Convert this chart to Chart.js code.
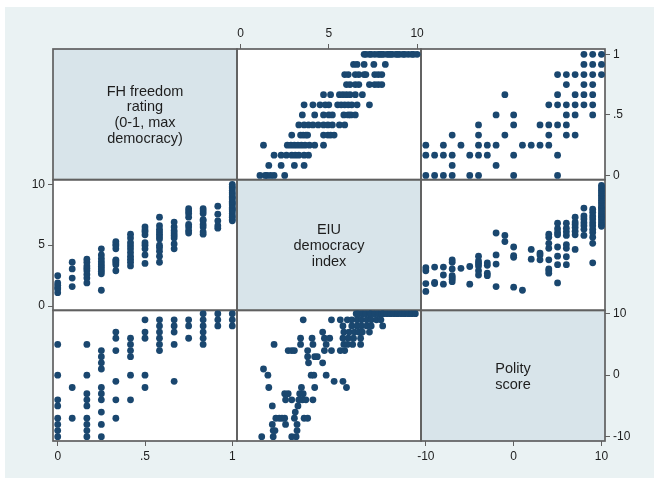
<!DOCTYPE html>
<html>
<head>
<meta charset="utf-8">
<title>Democracy measures - scatter matrix</title>
<script src="https://cdn.jsdelivr.net/npm/chart.js@4.4.1/dist/chart.umd.min.js"></script>
<style>
  html, body { margin: 0; padding: 0; background: #ffffff; }
  #wrap { position: absolute; left: 5px; top: 7px; width: 649px; height: 471px; background: #eaf2f3; }
  canvas { display: block; }
</style>
</head>
<body>
<div id="wrap"><canvas id="matrix" width="649" height="471"></canvas></div>
<script>
// names written on the diagonal
var fhName = ["FH freedom", "rating", "(0-1, max", "democracy)"];
var eiuName = ["EIU", "democracy", "index"];
var polityName = ["Polity", "score"];

// tick labels of each variable
var fhTicks = [0, 0.5, 1];
var eiuTicks = [0, 5, 10];
var polityTicks = [-10, 0, 10];

// FH rating comes in steps of 1/12
var fhLevels = [0, 0.083, 0.167, 0.25, 0.333, 0.417, 0.5, 0.583, 0.667, 0.75, 0.833, 0.917, 1];
// polity score is an integer -10..10
var polityLevels = [-10, -9, -8, -7, -6, -5, -4, -3, -2, -1, 0, 1, 2, 3, 4, 5, 6, 7, 8, 9, 10];

// EIU index of the countries at each FH level
var eiuByFh = [
  [1.1, 1.4, 1.5, 1.7, 1.9, 2.5],
  [1.6, 2.3, 3.05, 3.6],
  [1.9, 2.3, 2.6, 2.9, 3.1, 3.3, 3.6, 3.85],
  [1.3, 2.65, 2.85, 3.05, 3.25, 3.45, 3.65, 3.9, 4.2, 4.7],
  [2.9, 3.4, 3.55, 3.7, 3.8, 4.7, 4.95, 5.1, 5.3],
  [3.3, 3.6, 3.85, 4.1, 4.4, 4.7, 4.95, 5.2, 5.6, 5.9],
  [3.5, 4.2, 4.7, 5.0, 5.2, 5.85, 6.1, 6.25, 6.5],
  [3.6, 4.1, 4.5, 4.8, 5.0, 5.5, 5.7, 5.9, 6.1, 6.3, 6.6, 7.3],
  [4.7, 5.1, 5.6, 5.8, 6.0, 6.2, 6.5, 6.9],
  [6.0, 6.2, 6.5, 6.7, 7.3, 7.6, 7.8, 8.0],
  [5.9, 6.1, 6.5, 6.7, 7.0, 7.1, 7.6, 7.8, 8.0],
  [6.4, 6.6, 7.0, 7.55, 8.2],
  [7.0, 7.1, 7.3, 7.4, 7.6, 7.8, 7.9, 8.0, 8.1, 8.3, 8.4, 8.5, 8.6, 8.8, 8.9, 9.0, 9.2, 9.3, 9.5, 9.7, 9.8, 10.0]
];

// polity score of the countries at each FH level
var polityByFh = [
  [-10, -9, -8, -7, -5, -4, 0, 5],
  [-7, -2],
  [-10, -9, -8, -7, -5, -4, -3, 0, 5],
  [-10, -8, -6, -4, -3, -2, 1, 2, 3, 4],
  [-7, -4, -1, 4, 6, 7],
  [-4, 0, 3, 4, 5, 6],
  [-2, 0, 6, 7, 9],
  [4, 5, 6, 7, 8, 9],
  [-1, 5, 7, 8, 9],
  [6, 8, 9],
  [5, 6, 7, 8, 9, 10],
  [8, 9, 10],
  [8, 9, 10]
];

// EIU index of the countries at each polity score
var eiuByPolity = [
  [1.2, 1.85, 2.9, 3.15],
  [1.85, 1.95, 3.2],
  [1.8, 2.55, 3.2],
  [2.0, 2.2, 2.35, 2.5, 3.05, 3.6, 3.8],
  [3.1],
  [1.8, 3.25],
  [2.55, 2.9, 3.3, 3.5, 3.7, 4.1],
  [2.5, 2.7, 3.35, 3.55],
  [1.6, 3.45, 4.2, 6.0],
  [5.3, 5.8],
  [1.55, 4.0, 4.15, 4.85],
  [1.3],
  [3.85, 4.65],
  [3.8, 4.2, 4.35],
  [2.7, 2.9, 3.05, 3.8, 4.75, 5.15, 5.65, 5.9],
  [1.9, 3.4, 4.1, 4.85, 5.85, 6.05, 6.35, 6.8],
  [3.4, 4.05, 4.75, 5.05, 5.8, 6.1, 6.4, 6.8],
  [4.65, 5.85, 6.15, 6.45, 6.7, 6.9, 7.3],
  [5.8, 6.3, 6.6, 6.85, 7.15, 7.4, 8.05],
  [3.55, 5.15, 5.65, 6.05, 6.3, 6.6, 6.85, 7.15, 7.4, 7.7, 7.95],
  [6.55, 6.7, 6.9, 7.1, 7.3, 7.4, 7.6, 7.8, 8.0, 8.1, 8.3, 8.5, 8.7, 8.9, 9.1, 9.3, 9.5, 9.7, 9.9]
];

var navy = "#1a476f";
var frameColor = "#606060";
var labelFont = '"Liberation Sans", Arial, Helvetica, sans-serif';
// room left around the 3x3 block for the tick labels
var sideSize = { left: 48, right: 49, top: 42, bottom: 37 };

// flatten groups into [level, value] pairs
function pairs(levels, groups) {
  var out = [];
  for (var i = 0; i < levels.length; i++) {
    for (var j = 0; j < groups[i].length; j++) {
      out.push([levels[i], groups[i][j]]);
    }
  }
  return out;
}
function points(list, swap) {
  return list.map(function (p) {
    return swap ? { x: p[1], y: p[0] } : { x: p[0], y: p[1] };
  });
}
function tickText(v) {
  return String(v).replace(/^0\./, ".");
}
function sizeFix(pos) {
  return function (s) {
    if (pos == "left" || pos == "right") s.width = sideSize[pos];
    else s.height = sideSize[pos];
  };
}
// axis that shows its ticks
function axis(pos, stack, min, max, ticks) {
  return {
    type: "linear",
    axis: (pos == "top" || pos == "bottom") ? "x" : "y",
    position: pos,
    stack: stack,
    min: min,
    max: max,
    afterBuildTicks: function (s) {
      s.ticks = ticks.map(function (v) { return { value: v }; });
    },
    afterFit: sizeFix(pos),
    ticks: {
      autoSkip: false, maxRotation: 0, padding: 3, color: "#1e1e1e",
      font: { family: labelFont, size: 12 },
      callback: tickText
    },
    grid: { drawOnChartArea: false, drawTicks: true, tickLength: 5, color: frameColor, lineWidth: 1 },
    border: { display: false }
  };
}
// empty slot, only there so the stack splits into three panels
function blank(pos, stack) {
  return {
    type: "linear",
    axis: (pos == "top" || pos == "bottom") ? "x" : "y",
    position: pos,
    stack: stack,
    display: false,
    afterFit: sizeFix(pos)
  };
}

var fhEiu = pairs(fhLevels, eiuByFh);
var fhPolity = pairs(fhLevels, polityByFh);
var polityEiu = pairs(polityLevels, eiuByPolity);

function panel(data, xId, yId) {
  return {
    data: data, xAxisID: xId, yAxisID: yId,
    pointRadius: 3.4, pointHoverRadius: 3.4, pointBorderWidth: 0,
    pointBackgroundColor: navy, pointBorderColor: navy
  };
}

// light panels on the diagonal, white plot areas and the frames
var matrixFrame = {
  id: "matrixFrame",
  beforeDatasetsDraw: function (chart) {
    var ctx = chart.ctx, s = chart.scales;
    var cols = [s.xFH, s.xEIU, s.xPolity];
    var rows = [s.yFH, s.yEIU, s.yPolity];
    var names = [fhName, eiuName, polityName];
    ctx.save();
    for (var r = 0; r < 3; r++) {
      for (var c = 0; c < 3; c++) {
        ctx.fillStyle = (r == c) ? "#d8e4ea" : "#ffffff";
        ctx.fillRect(cols[c].left, rows[r].top, cols[c].right - cols[c].left, rows[r].bottom - rows[r].top);
      }
    }
    ctx.fillStyle = "#1e1e1e";
    ctx.font = "14.5px " + labelFont;
    ctx.textAlign = "center";
    ctx.textBaseline = "middle";
    for (var i = 0; i < 3; i++) {
      var cx = (cols[i].left + cols[i].right) / 2;
      var cy = (rows[i].top + rows[i].bottom) / 2 + 1;
      var lines = names[i];
      for (var k = 0; k < lines.length; k++) {
        ctx.fillText(lines[k], cx, cy + (k - (lines.length - 1) / 2) * 15.8);
      }
    }
    ctx.strokeStyle = frameColor;
    ctx.lineWidth = 1.7;
    for (r = 0; r < 3; r++) {
      for (c = 0; c < 3; c++) {
        ctx.strokeRect(cols[c].left, rows[r].top, cols[c].right - cols[c].left, rows[r].bottom - rows[r].top);
      }
    }
    ctx.restore();
  }
};

var ctx = document.getElementById("matrix").getContext("2d");
var myChart = new Chart(ctx, {
  type: "scatter",
  data: {
    datasets: [
      panel(points(fhEiu, true), "xEIU", "yFH"),
      panel(points(fhPolity, true), "xPolity", "yFH"),
      panel(points(fhEiu, false), "xFH", "yEIU"),
      panel(points(polityEiu, false), "xPolity", "yEIU"),
      panel(points(fhPolity, false), "xFH", "yPolity"),
      panel(points(polityEiu, true), "xEIU", "yPolity")
    ]
  },
  options: {
    responsive: false,
    animation: false,
    events: [],
    layout: { padding: 0 },
    plugins: { legend: { display: false }, tooltip: { enabled: false } },
    scales: {
      // bottom: left to right
      xFH: axis("bottom", "cols", -0.027, 1.027, fhTicks),
      xEIUb: blank("bottom", "cols"),
      xPolity: axis("bottom", "cols", -10.55, 10.4, polityTicks),
      // top: Chart.js lays these out in reverse order
      xPolityT: blank("top", "cols"),
      xEIU: axis("top", "cols", -0.2, 10.22, eiuTicks),
      xFHT: blank("top", "cols"),
      // left: reverse order too
      yPolityL: blank("left", "rows"),
      yEIU: axis("left", "rows", -0.35, 10.38, eiuTicks),
      yFHL: blank("left", "rows"),
      // right: top to bottom
      yFH: axis("right", "rows", -0.035, 1.044, fhTicks),
      yEIUR: blank("right", "rows"),
      yPolity: axis("right", "rows", -10.7, 10.54, polityTicks)
    }
  },
  plugins: [matrixFrame]
});
</script>
</body>
</html>
